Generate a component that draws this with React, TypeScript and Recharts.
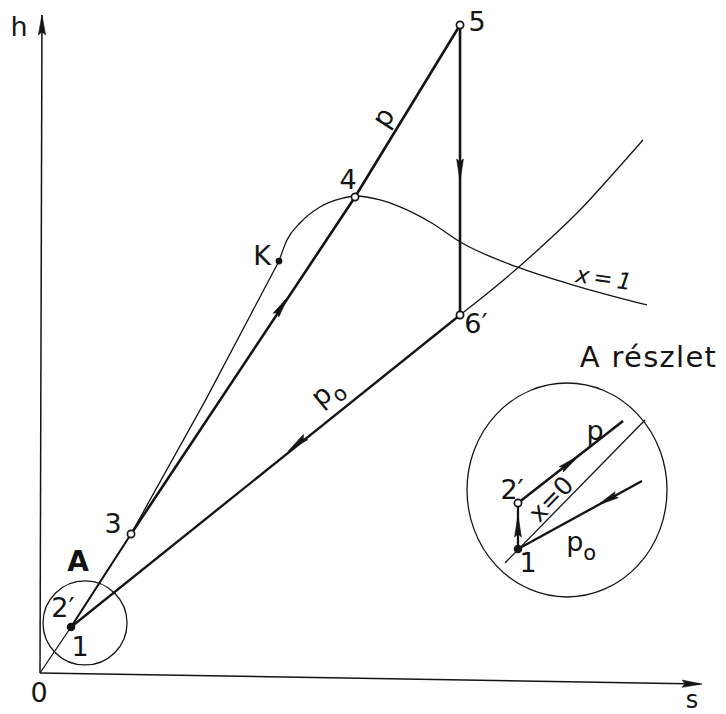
import React from 'react';
import { ComposedChart, Line, Scatter, XAxis, YAxis, ReferenceDot } from 'recharts';

// Chart size and the drawing frame: origin O, 6.6 px per unit on both axes
const WIDTH = 726;
const HEIGHT = 714;
const S_DOMAIN: [number, number] = [-6.061, 103.939];
const H_DOMAIN: [number, number] = [-6.212, 101.97];

// Axes (s to the right, h upwards)
const sAxisLine = [{ s: 0, h: 0 }, { s: 100, h: -1.67 }];
const hAxisLine = [{ s: 0, h: 0 }, { s: 0.3, h: 99.7 }];

// State points of the cycle
const P1 = { s: 4.7, h: 6.97 };
const P3 = { s: 13.79, h: 21.06 };
const PK = { s: 36.21, h: 62.42 };
const P4 = { s: 47.73, h: 72.12 };
const P5 = { s: 63.64, h: 98.18 };
const P6 = { s: 63.64, h: 54.24 };

// Saturated liquid line x = 0 from the origin to 1 and 3
const liquidLow = [{ s: 0, h: 0 }, P1, P3];
// Liquid branch from 3 up to the critical point K
const liquidHigh = [P3, { s: 25.0, h: 41.2 }, PK];
// From K over the top of the dome down along the vapour branch x = 1
const vapourCurve = [
  PK,
  { s: 37.42, h: 65.61 },
  { s: 39.39, h: 68.18 },
  { s: 42.42, h: 70.61 },
  { s: 45.45, h: 71.82 },
  { s: 47.73, h: 72.27 },
  { s: 51.52, h: 71.67 },
  { s: 54.55, h: 70.61 },
  { s: 59.09, h: 68.33 },
  { s: 63.94, h: 65.15 },
  { s: 72.27, h: 61.52 },
  { s: 81.82, h: 58.48 },
  { s: 91.97, h: 55.76 },
];
// Isobar p0 continued into the superheated region
const isobarP0Superheat = [
  P6,
  { s: 69.7, h: 59.09 },
  { s: 75.76, h: 64.39 },
  { s: 81.82, h: 70.15 },
  { s: 87.88, h: 76.82 },
  { s: 91.36, h: 80.76 },
];

// Cycle branches
const heatingLow = [P1, P3];
const heatingHigh = [P3, P4, P5];
const expansion = [P5, P6];
const condensation = [P6, P1];

// Detail "A", enlarged
const detailCenter = { s: 79.85, h: 27.73 };
const D1 = { s: 72.42, h: 18.79 };
const D2 = { s: 72.42, h: 25.76 };
const detailPump = [D1, D2];
const detailP = [D2, { s: 88.33, h: 38.18 }];
const detailX0 = [{ s: 70.45, h: 16.67 }, { s: 91.67, h: 38.33 }];
const detailP0 = [D1, { s: 91.21, h: 29.09 }];
const circleA = { s: 6.82, h: 7.58 };

// Point markers
const markers = [
  { ...P1, kind: 'solid' },
  { ...P3, kind: 'open' },
  { ...PK, kind: 'small' },
  { ...P4, kind: 'open' },
  { ...P5, kind: 'open' },
  { ...P6, kind: 'open' },
  { ...D1, kind: 'solid' },
  { ...D2, kind: 'open' },
];

// Flow-direction arrows (angle in screen degrees)
const arrows = [
  { s: 36.67, h: 55.61, angle: -56.3, kind: 'flow' },
  { s: 63.64, h: 76.21, angle: 90, kind: 'flow' },
  { s: 38.94, h: 34.7, angle: 141.3, kind: 'flow' },
  { s: 72.42, h: 22.27, angle: -90, kind: 'flow' },
  { s: 80.3, h: 31.88, angle: -38, kind: 'flow' },
  { s: 85.91, h: 26.21, angle: 151.3, kind: 'flow' },
  { s: 0.3, h: 98.2, angle: -90, kind: 'axis' },
  { s: 98.8, h: -1.65, angle: 1, kind: 'axis' },
];

// Text labels
const labels = [
  { id: 'h', s: -3.18, h: 98.03, text: 'h' },
  { id: 's', s: 98.79, h: -5.3, text: 's' },
  { id: '0', s: -0.15, h: -2.88, text: '0' },
  { id: '5', s: 66.21, h: 98.64, text: '5' },
  { id: 'p', s: 51.97, h: 84.24, text: 'p' },
  { id: '4', s: 46.67, h: 74.7, text: '4' },
  { id: 'K', s: 33.64, h: 63.33, text: 'K' },
  { id: 'x1', s: 85.3, h: 59.85, text: 'x = 1' },
  { id: '6', s: 66.06, h: 53.03, text: '6\u2032' },
  { id: 'p0', s: 43.33, h: 42.73, text: 'p', sub: 'o' },
  { id: '3', s: 11.06, h: 22.58, text: '3' },
  { id: 'A', s: 5.76, h: 16.82, text: 'A' },
  { id: '2', s: 3.48, h: 10.0, text: '2\u2032' },
  { id: '1', s: 6.06, h: 4.09, text: '1' },
  { id: 'title', s: 92.2, h: 47.88, text: 'A részlet' },
  { id: 'dp', s: 84.09, h: 36.67, text: 'p' },
  { id: 'd2', s: 71.52, h: 27.73, text: '2\u2032' },
  { id: 'dx0', s: 77.42, h: 26.36, text: 'x=0' },
  { id: 'dp0', s: 82.0, h: 19.9, text: 'p', sub: 'o' },
  { id: 'd1', s: 73.94, h: 16.67, text: '1' },
];

const labelStyle: Record<
  string,
  { rotate?: number; size?: number; weight?: string; spacing?: number; italic?: boolean; baseline?: boolean }
> = {
  s: { size: 24, baseline: true },
  p: { rotate: -57 },
  p0: { rotate: -40 },
  x1: { rotate: 8, size: 23, spacing: -1.5, italic: true },
  dx0: { rotate: -46, size: 25 },
  A: { weight: 'bold', size: 28 },
  title: { size: 29, spacing: 1.3 },
};

const INK = '#141414';
const FONT = 'DejaVu Sans, Liberation Sans, sans-serif';

const MarkerShape = (props: any) => {
  const { cx, cy, payload } = props;
  if (payload.kind === 'open') {
    return <circle cx={cx} cy={cy} r={3.6} fill="#fff" stroke={INK} strokeWidth={1.7} />;
  }
  if (payload.kind === 'small') {
    return <circle cx={cx} cy={cy} r={3.4} fill={INK} />;
  }
  return <circle cx={cx} cy={cy} r={4.3} fill={INK} />;
};

const ArrowShape = (props: any) => {
  const { cx, cy, payload } = props;
  const len = payload.kind === 'axis' ? 20 : 22;
  const half = payload.kind === 'axis' ? 3.6 : 3.4;
  const d = `M ${len / 2} 0 L ${-len / 2} ${-half} L ${-len / 2 + 3} 0 L ${-len / 2} ${half} Z`;
  return (
    <path d={d} fill={INK} stroke={INK} strokeWidth={0.6} transform={`translate(${cx} ${cy}) rotate(${payload.angle})`} />
  );
};

const LabelShape = (props: any) => {
  const { cx, cy, payload } = props;
  const st = labelStyle[payload.id] || {};
  const size = st.size ?? 27;
  return (
    <text
      x={cx}
      y={cy}
      transform={st.rotate ? `rotate(${st.rotate} ${cx} ${cy})` : undefined}
      textAnchor="middle"
      dominantBaseline={st.baseline ? 'auto' : 'central'}
      fontFamily={FONT}
      fontSize={size}
      fontWeight={st.weight ?? 'normal'}
      fontStyle={st.italic ? 'italic' : 'normal'}
      letterSpacing={st.spacing ?? 0}
      fill={INK}
    >
      {payload.text}
      {payload.sub ? (
        <tspan dx={0} dy={11} fontSize={21}>
          {payload.sub}
        </tspan>
      ) : null}
    </text>
  );
};

const EllipseShape = (props: any) => (
  <ellipse cx={props.cx} cy={props.cy} rx={100} ry={107} fill="none" stroke={INK} strokeWidth={1.3} />
);

const thin = { stroke: INK, strokeWidth: 1.3, dot: false, activeDot: false, isAnimationActive: false } as const;
const thick = { stroke: INK, strokeWidth: 2.6, dot: false, activeDot: false, isAnimationActive: false } as const;

export default function App() {
  return (
    <div style={{ position: 'absolute', left: 0, top: 0, width: WIDTH, height: HEIGHT, background: '#fff' }}>
      <ComposedChart width={WIDTH} height={HEIGHT} margin={{ top: 0, right: 0, bottom: 0, left: 0 }}>
        <XAxis type="number" dataKey="s" domain={S_DOMAIN} allowDataOverflow hide />
        <YAxis type="number" dataKey="h" domain={H_DOMAIN} allowDataOverflow hide />

        <Line data={sAxisLine} dataKey="h" type="linear" {...thin} strokeWidth={1.5} />
        <Line data={hAxisLine} dataKey="h" type="linear" {...thin} strokeWidth={1.5} />

        <Line data={liquidLow} dataKey="h" type="linear" {...thin} />
        <Line data={liquidHigh} dataKey="h" type="linear" {...thin} />
        <Line data={vapourCurve} dataKey="h" type="monotoneX" {...thin} />
        <Line data={isobarP0Superheat} dataKey="h" type="monotoneX" {...thin} />

        <Line data={heatingLow} dataKey="h" type="linear" {...thick} strokeWidth={2} />
        <Line data={heatingHigh} dataKey="h" type="linear" {...thick} />
        <Line data={expansion} dataKey="h" type="linear" {...thick} />
        <Line data={condensation} dataKey="h" type="linear" {...thick} strokeWidth={2.3} />

        <ReferenceDot x={circleA.s} y={circleA.h} r={42} fill="none" stroke={INK} strokeWidth={1.3} />
        <ReferenceDot x={detailCenter.s} y={detailCenter.h} r={100} shape={EllipseShape} />

        <Line data={detailX0} dataKey="h" type="linear" {...thin} />
        <Line data={detailPump} dataKey="h" type="linear" {...thick} strokeWidth={2.3} />
        <Line data={detailP} dataKey="h" type="linear" {...thick} strokeWidth={2.5} />
        <Line data={detailP0} dataKey="h" type="linear" {...thick} strokeWidth={2.3} />

        <Scatter data={arrows} dataKey="h" shape={ArrowShape} isAnimationActive={false} />
        <Scatter data={markers} dataKey="h" shape={MarkerShape} isAnimationActive={false} />
        <Scatter data={labels} dataKey="h" shape={LabelShape} isAnimationActive={false} />
      </ComposedChart>
    </div>
  );
}
